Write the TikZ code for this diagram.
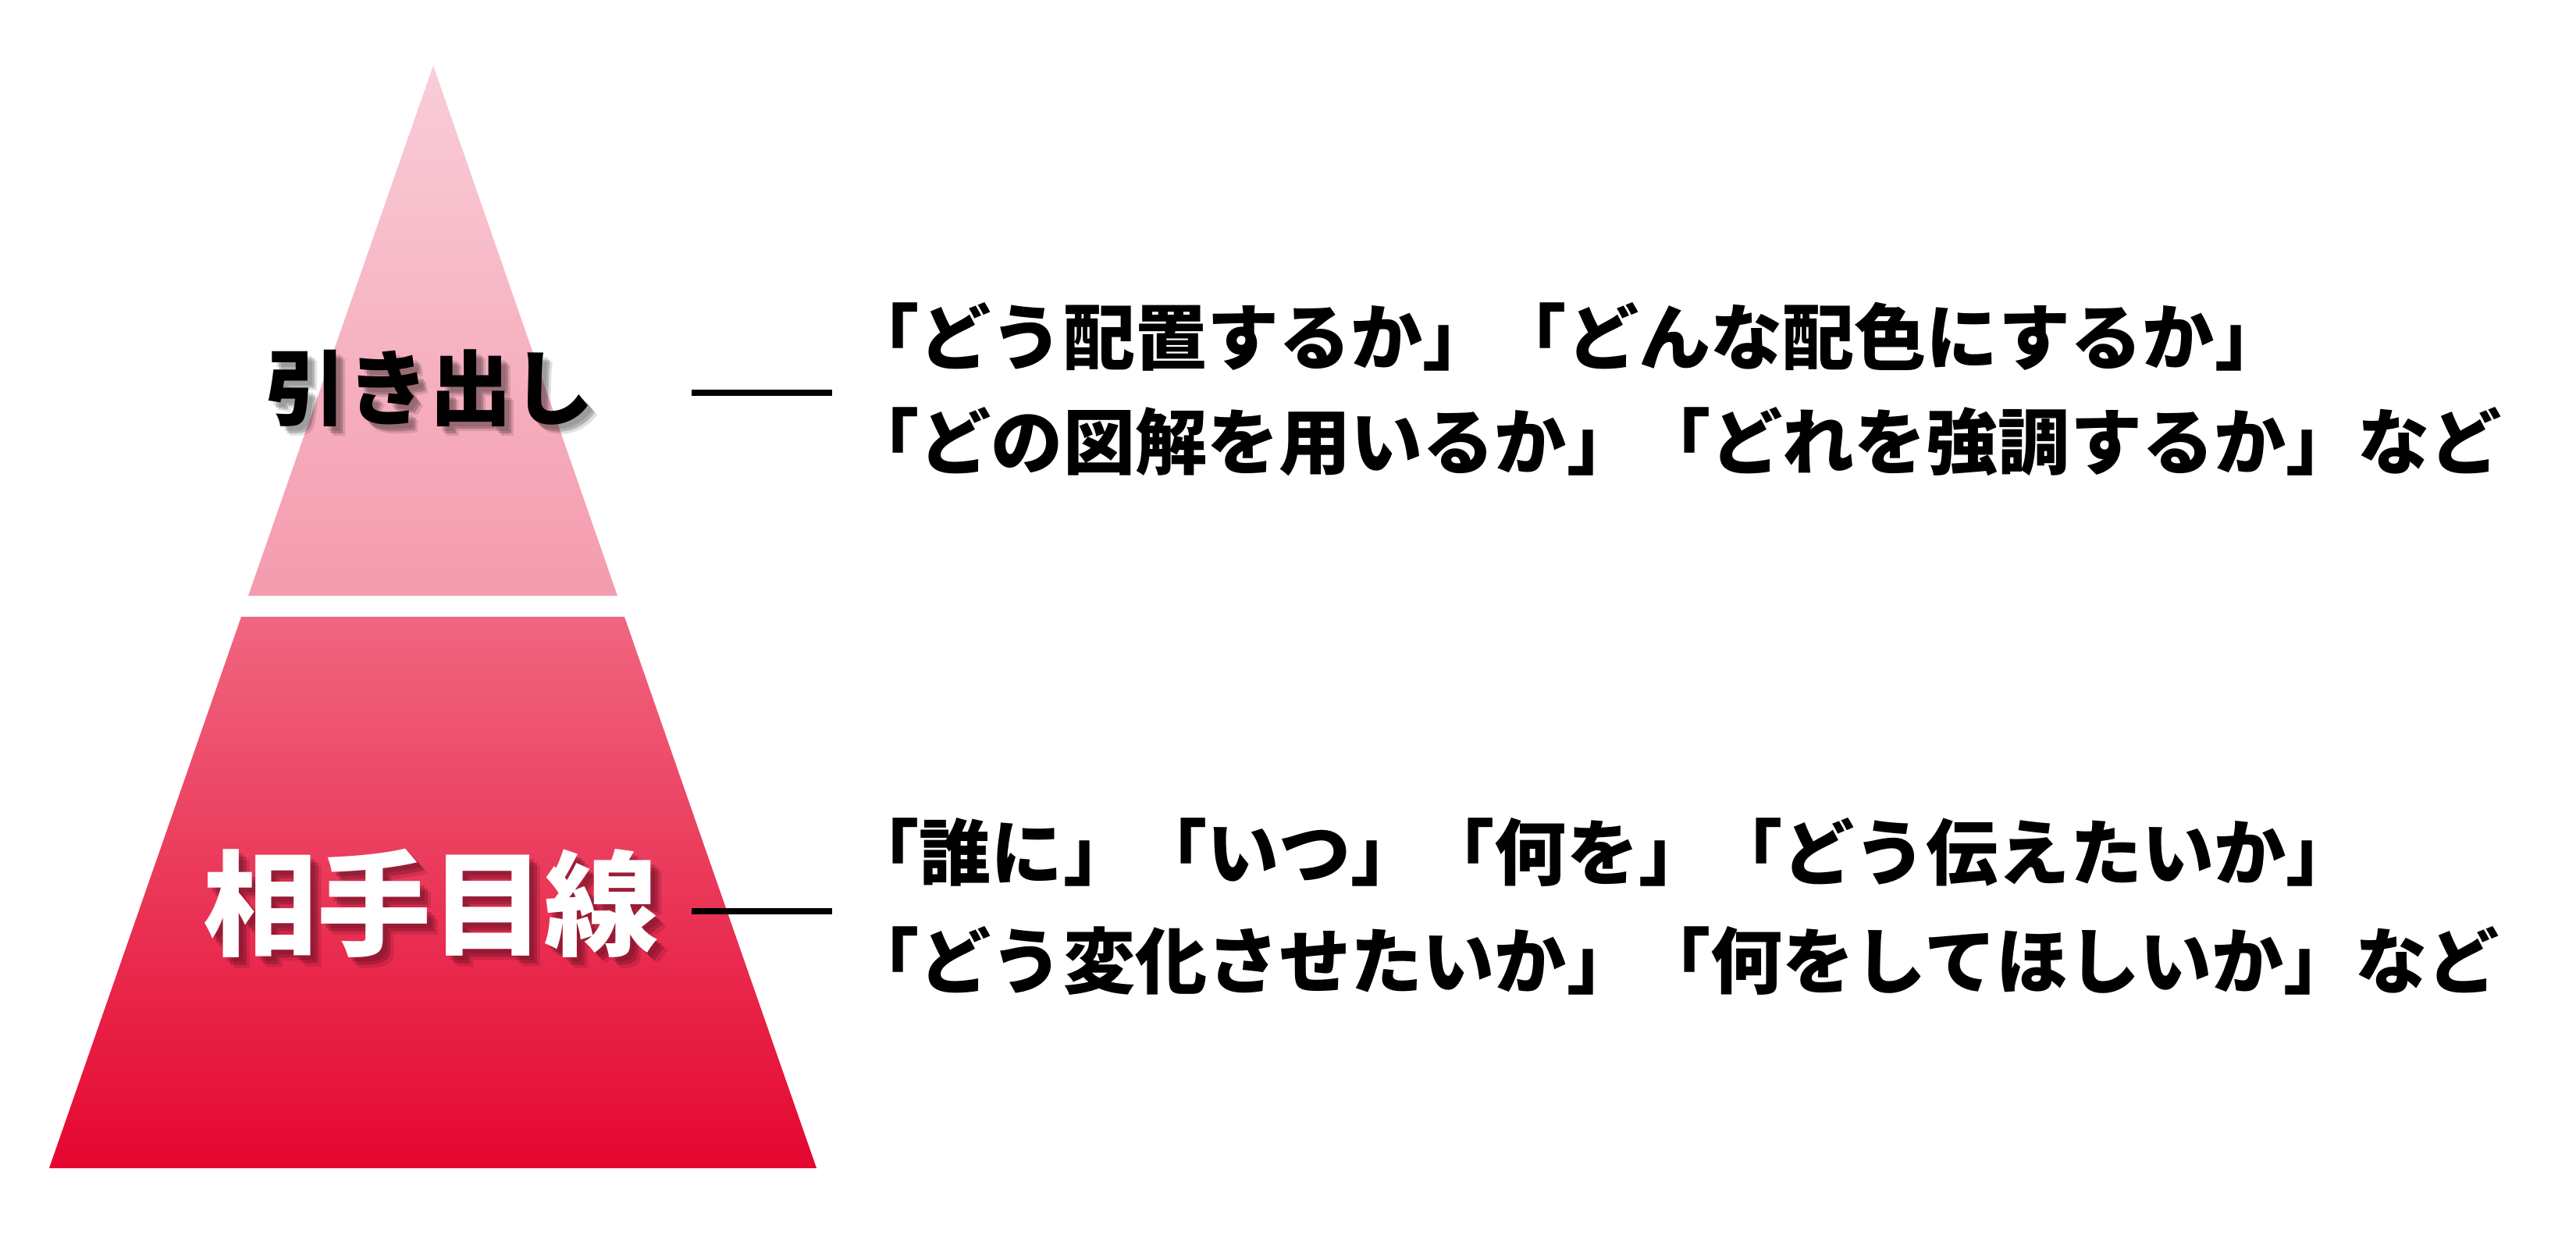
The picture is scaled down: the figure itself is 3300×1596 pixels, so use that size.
\documentclass[tikz,border=0pt]{standalone}
\usepackage{fontspec}
\setmainfont{Noto Sans CJK JP}
\definecolor{pinkTop}{HTML}{F9CDD8}
\definecolor{pinkBot}{HTML}{F49BAE}
\definecolor{redTop}{HTML}{F06680}
\definecolor{redBot}{HTML}{E5062F}
\definecolor{redShadow}{HTML}{6A1025}
\tikzset{
  bodytext/.style={anchor=west, inner sep=0pt, font=\bfseries\fontsize{26.2pt}{30pt}\selectfont, text=black},
  toplabel/.style={inner sep=0pt, font=\bfseries\fontsize{30pt}{34pt}\selectfont},
  botlabel/.style={inner sep=0pt, font=\bfseries\fontsize{41.5pt}{46pt}\selectfont},
  dashline/.style={line width=0.075cm, black}
}
\begin{document}
\begin{tikzpicture}[x=0.01cm, y=0.01cm]
\useasboundingbox (0,0) rectangle (3300,1596);
% pyramid
\shade[top color=pinkTop, bottom color=pinkBot] (555,1512) -- (791,833) -- (318,833) -- cycle;
\shade[top color=redTop, bottom color=redBot] (309,806) -- (800,806) -- (1046,100) -- (63,100) -- cycle;
% top label with soft shadow
\foreach \dx/\dy/\op in {12/-12/0.12, 9/-9/0.2, 6/-6/0.12}{
  \node[toplabel, text=black, opacity=\op] at (550+\dx,1099+\dy) {引き出し};
}
\node[toplabel, text=black] (lab1) at (550,1099) {引き出し};
% bottom label with shadow
\foreach \dx/\dy/\op in {14/-14/0.2, 10/-10/0.35, 6/-6/0.3}{
  \node[botlabel, text=redShadow, opacity=\op] at (552+\dx,439+\dy) {相手目線};
}
\node[botlabel, text=white] (lab2) at (552,439) {相手目線};
% dashes
\coordinate (d1a) at (886,1093);
\coordinate (d1b) at (1066,1093);
\coordinate (d2a) at (886,429);
\coordinate (d2b) at (1066,429);
\draw[dashline] (d1a) -- (d1b);
\draw[dashline] (d2a) -- (d2b);
% texts
\node[bodytext] (t1) at (1085,1165) {「どう配置するか」「どんな配色にするか」};
\node[bodytext] (t2) at (1085,1030) {「どの図解を用いるか」「どれを強調するか」など};
\node[bodytext] (t3) at (1085,505) {「誰に」「いつ」「何を」「どう伝えたいか」};
\node[bodytext] (t4) at (1085,366) {「どう変化させたいか」「何をしてほしいか」など};
\end{tikzpicture}
\end{document}
